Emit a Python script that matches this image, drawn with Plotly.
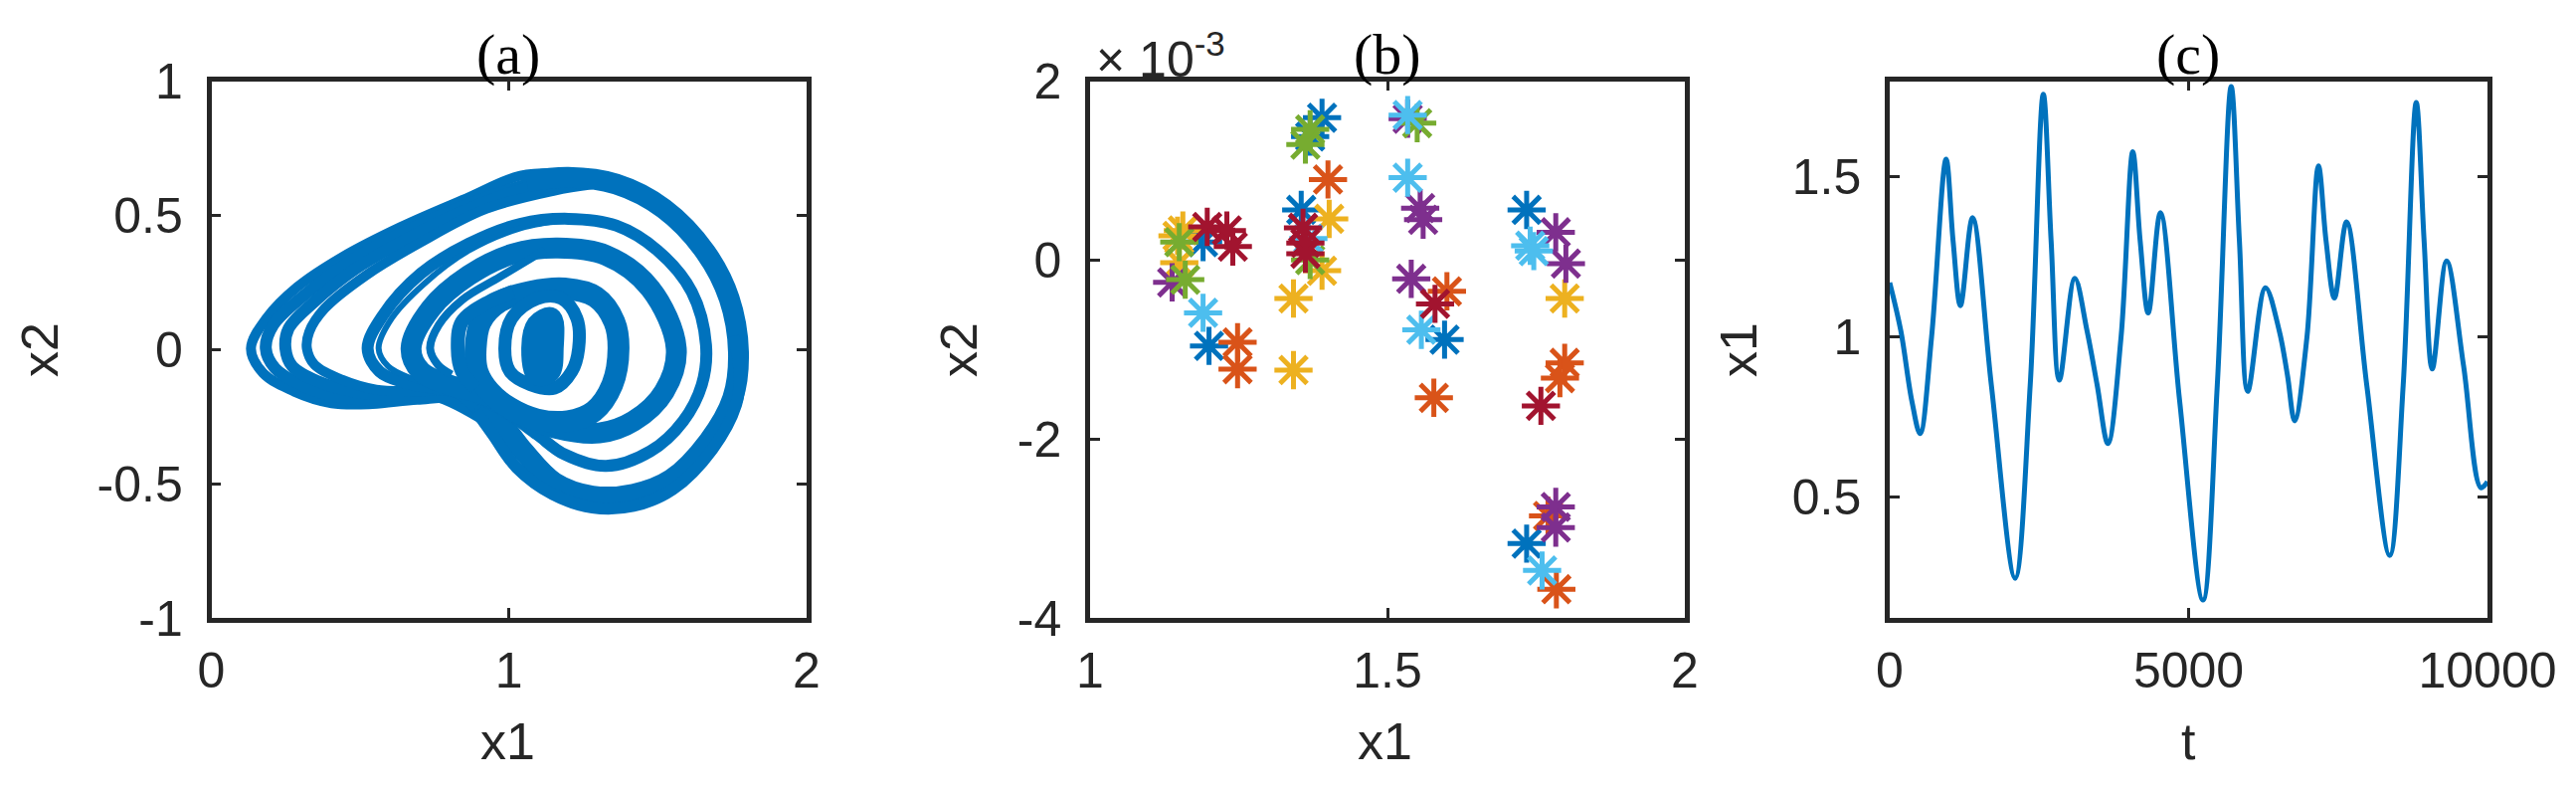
import plotly.graph_objects as go

# panel (a): phase portrait
arc1_x = [1.28, 1.199, 1.038, .865, .635, .439, .289, .185, .133, .174, .277, .404, .542, .692, .842, .93]
arc1_y = [.64, .655, .647, .567, .456, .344, .233, .116, .004, -.088, -.156, -.2, -.203, -.187, -.187, -.27]
arc2_x = [1.28, 1.095, .865, .635, .462, .312, .208, .183, .214, .3, .416, .554, .704, .842, .93]
arc2_y = [.63, .622, .542, .431, .326, .202, .091, .004, -.07, -.131, -.175, -.187, -.175, -.175, -.27]
arc3_x = [1.28, 1.095, .865, .658, .485, .346, .26, .249, .272, .358, .473, .6, .75, .93]
arc3_y = [.62, .61, .524, .412, .301, .178, .079, .004, -.063, -.119, -.156, -.171, -.171, -.27]
arc4_x = [1.28, 1.153, .923, .704, .519, .381, .329, .321, .347, .439, .554, .681, .819, .93]
arc4_y = [.615, .592, .524, .4, .276, .153, .066, .004, -.057, -.113, -.15, -.156, -.162, -.27]
main_x = [1.06, 1.199, 1.36, 1.521, 1.66, 1.74, 1.771, 1.752, 1.671, 1.545, 1.418, 1.28, 1.153, 1.049, .969, .9]
main_y = [.625, .641, .616, .524, .363, .19, -.008, -.181, -.342, -.484, -.539, -.546, -.496, -.379, -.267, -.2]
outer_x = [1.755, 1.775, 1.763, 1.683, 1.55, 1.418, 1.28, 1.147, 1.026, .946, .89]
outer_y = [.05, -.09, -.206, -.372, -.521, -.583, -.589, -.539, -.44, -.317, -.23]
ring2_x = [.525, .577, .704, .865, 1.038, 1.199, 1.36, 1.499, 1.614, 1.662, 1.648, 1.585, 1.475, 1.326, 1.187, 1.095, 1.003, .923, .842, .75, .646, .565, .525]
ring2_y = [.004, .128, .283, .394, .468, .487, .462, .369, .215, .017, -.131, -.267, -.379, -.434, -.391, -.317, -.243, -.193, -.156, -.144, -.122, -.082, .004]
ring2b_x = [1.199, 1.038, .865, .715, .606, .562, .594, .669, .75]
ring2b_y = [.485, .452, .369, .245, .116, .004, -.063, -.107, -.131]
ring3_x = [.671, .738, .865, 1.015, 1.164, 1.326, 1.475, 1.562, 1.522, 1.418, 1.303, 1.153, 1.038, .923, .796, .704, .671]
ring3_y = [.004, .153, .276, .357, .378, .351, .227, .004, -.156, -.267, -.311, -.292, -.243, -.169, -.131, -.082, .004]
ring3b_x = [1.12, .969, .842, .764, .735, .761, .807]
ring3b_y = [.37, .27, .184, .091, .004, -.057, -.094]
ring4_x = [.888, .905, .969, 1.072, 1.187, 1.291, 1.354, 1.368, 1.347, 1.285, 1.199, 1.095, 1.003, .934, .894, .888]
ring4_y = [.004, .103, .178, .215, .227, .196, .103, .004, -.131, -.23, -.267, -.261, -.218, -.156, -.082, .004]
ring4b_x = [1.015, .934, .842, .828, .842, .888]
ring4b_y = [.215, .178, .103, .004, -.082, -.144]
ring5_x = [.986, 1.009, 1.095, 1.176, 1.228, 1.234, 1.211, 1.153, 1.072, 1.003, .986]
ring5_y = [.004, .116, .19, .19, .116, .004, -.082, -.144, -.131, -.082, .004]
core_x = [1.078, 1.095, 1.141, 1.147, 1.136, 1.095, 1.078]
core_y = [.004, .091, .116, .004, -.082, -.094, .004]

# panel (b): section points, y in units of 1e-3, one pair of lists per colour
blue_x = [1.39, 1.37, 1.19, 1.20, 1.355, 1.734, 1.734, 1.596]
blue_y = [1.59, 1.38, 0.20, -0.96, 0.56, 0.56, -3.17, -0.89]
orange_x = [1.40, 1.248, 1.248, 1.60, 1.578, 1.798, 1.79, 1.77, 1.784]
orange_y = [0.90, -0.92, -1.22, -0.35, -1.54, -1.15, -1.32, -2.86, -3.68]
yellow_x = [1.402, 1.39, 1.342, 1.342, 1.798, 1.147, 1.15, 1.156]
yellow_y = [0.46, -0.12, -0.43, -1.23, -0.43, 0.27, -0.03, 0.33]
purple_x = [1.555, 1.56, 1.54, 1.534, 1.783, 1.80, 1.783, 1.783, 1.138]
purple_y = [0.58, 0.45, -0.21, 1.58, 0.31, -0.04, -2.76, -2.99, -0.25]
green_x = [1.37, 1.362, 1.55, 1.15, 1.16, 1.37]
green_y = [1.46, 1.29, 1.53, 0.20, -0.22, 0.0]
cyan_x = [1.534, 1.534, 1.74, 1.746, 1.19, 1.557, 1.76, 1.367]
cyan_y = [1.62, 0.92, 0.16, 0.10, -0.59, -0.78, -3.47, 0.24]
red_x = [1.197, 1.23, 1.24, 1.358, 1.362, 1.362, 1.58, 1.758]
red_y = [0.37, 0.33, 0.15, 0.36, 0.19, 0.07, -0.49, -1.63]

# panel (c): time series
t = [0, 185, 370, 508, 700, 943, 1060, 1183, 1386, 1700, 2098, 2350, 2569, 2700, 2837, 3096, 3300, 3470, 3650, 3870, 4066,
     4190, 4325, 4529, 4850, 5240, 5480, 5712, 5850, 5989, 6285, 6516, 6654, 6774, 6980, 7172, 7300, 7440, 7643, 7980,
     8364, 8590, 8808, 8940, 9076, 9316, 9600, 9889, 10000]
x1 = [1.17, 1.02, 0.80, 0.698, 1.0, 1.556, 1.30, 1.098, 1.373, 0.85, 0.246, 0.85, 1.759, 1.30, 0.865, 1.183, 1.02, 0.85,
      0.667, 1.0, 1.579, 1.30, 1.075, 1.389, 0.80, 0.178, 0.85, 1.783, 1.30, 0.83, 1.154, 1.02, 0.88, 0.738, 1.0, 1.535,
      1.30, 1.122, 1.36, 0.85, 0.317, 0.85, 1.733, 1.30, 0.90, 1.238, 0.91, 0.529, 0.548]

BLUE = "#0072BD"
INK = "#262626"
W, H = 2590, 799

fig = go.Figure()


def band(xs, ys, width):
    fig.add_trace(go.Scatter(x=xs, y=ys, mode="lines", xaxis="x", yaxis="y",
                             line=dict(color=BLUE, width=width, shape="spline"), showlegend=False))


band(arc1_x, arc1_y, 10)
band(arc2_x, arc2_y, 12)
band(arc3_x, arc3_y, 12)
band(arc4_x, arc4_y, 10)
band(main_x, main_y, 21)
band(outer_x, outer_y, 12)
band(ring2_x, ring2_y, 12)
band(ring2b_x, ring2b_y, 6)
band(ring3_x, ring3_y, 21)
band(ring3b_x, ring3b_y, 8)
band(ring4_x, ring4_y, 22)
band(ring4b_x, ring4b_y, 14)
band(ring5_x, ring5_y, 13)
band(core_x, core_y, 22)

for xs, ys, col in [(blue_x, blue_y, "#0072BD"), (orange_x, orange_y, "#D95319"), (yellow_x, yellow_y, "#EDB120"),
                    (purple_x, purple_y, "#7E2F8E"), (green_x, green_y, "#77AC30"), (cyan_x, cyan_y, "#4DBEEE"),
                    (red_x, red_y, "#A2142F")]:
    fig.add_trace(go.Scatter(x=xs, y=ys, mode="markers", xaxis="x2", yaxis="y2", showlegend=False,
                             marker=dict(symbol="asterisk-open", size=32, color=col, line=dict(color=col, width=5))))

fig.add_trace(go.Scatter(x=t, y=x1, mode="lines", xaxis="x3", yaxis="y3", showlegend=False,
                         line=dict(color=BLUE, width=5, shape="spline")))


def axis(left, right, rng, vals, text, horizontal):
    a = dict(range=rng, tickvals=vals, ticktext=text, ticks="inside", ticklen=10, tickwidth=3, tickcolor=INK,
             showline=True, linecolor=INK, linewidth=4.5, mirror="allticks", showgrid=False, zeroline=False,
             tickfont=dict(family="Liberation Sans", size=50, color=INK),
             ticklabelstandoff=5 if horizontal else 14)
    a["domain"] = [left / W, right / W] if horizontal else [1 - right / H, 1 - left / H]
    return a


fig.update_layout(
    width=W, height=H, margin=dict(l=0, r=0, t=0, b=0, autoexpand=False), paper_bgcolor="white", plot_bgcolor="white",
    xaxis=axis(212.5, 811, [0, 2], [0, 1, 2], ["0", "1", "2"], True),
    yaxis=axis(81.5, 621, [-1, 1], [-1, -0.5, 0, 0.5, 1], ["-1", "-0.5", "0", "0.5", "1"], False),
    xaxis2=axis(1096, 1694, [1, 2], [1, 1.5, 2], ["1", "1.5", "2"], True),
    yaxis2=axis(81.5, 621, [-4, 2], [-4, -2, 0, 2], ["-4", "-2", "0", "2"], False),
    xaxis3=axis(1900, 2501, [0, 10000], [0, 5000, 10000], ["0", "5000", "10000"], True),
    yaxis3=axis(81.5, 621, [0.122, 1.80], [0.5, 1, 1.5], ["0.5", "1", "1.5"], False),
)
fig.layout.xaxis2.anchor = "y2"
fig.layout.yaxis2.anchor = "x2"
fig.layout.xaxis3.anchor = "y3"
fig.layout.yaxis3.anchor = "x3"


def label(text, px, py, size=52, family="Liberation Sans", color=INK, angle=0, xanchor="center"):
    fig.add_annotation(text=text, x=px / W, y=1 - py / H, xref="paper", yref="paper", showarrow=False,
                       textangle=angle, xanchor=xanchor, yanchor="middle",
                       font=dict(family=family, size=size, color=color))


for name, px in [("(a)", 511), ("(b)", 1395), ("(c)", 2200)]:
    label(name, px, 55, size=58, family="Liberation Serif", color="black")
for name, px in [("x1", 510), ("x1", 1392), ("t", 2200)]:
    label(name, px, 745)
for name, px in [("x2", 40), ("x2", 964), ("x1", 1748)]:
    label(name, px, 352, angle=-90)
label("× 10<sup>-3</sup>", 1100, 56, size=50, xanchor="left")

fig.write_html("out.html", config={"displayModeBar": False}, post_script="document.body.style.margin='0';")
